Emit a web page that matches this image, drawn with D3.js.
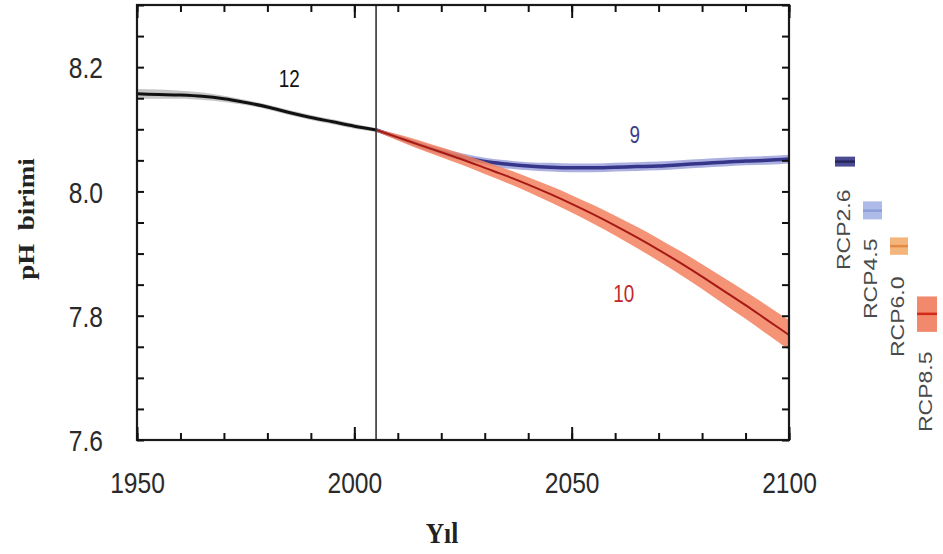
<!DOCTYPE html>
<html><head><meta charset="utf-8">
<script src="https://cdn.jsdelivr.net/npm/d3@7"></script>
<style>
html,body{margin:0;padding:0;background:#fff;}
svg{display:block;}
</style>
</head><body>
<svg id="c" width="943" height="554"></svg>
<script>
// ---------- data ----------
const histYears = [1950,1955,1960,1965,1970,1975,1980,1985,1990,1995,2000,2005];
const histPH    = [8.157,8.156,8.155,8.153,8.149,8.143,8.136,8.127,8.119,8.112,8.105,8.099];
const histLo    = [8.149,8.149,8.149,8.147,8.144,8.139,8.132,8.123,8.115,8.108,8.101,8.096];
const histHi    = [8.165,8.164,8.162,8.159,8.154,8.147,8.140,8.131,8.123,8.116,8.109,8.102];

const futYears  = [2005,2010,2015,2020,2025,2030,2035,2040,2045,2050,2055,2060,2065,2070,2075,2080,2085,2090,2095,2100];
const rcp26     = [8.099,8.087,8.075,8.064,8.055,8.048,8.044,8.041,8.039,8.038,8.038,8.039,8.040,8.041,8.043,8.045,8.047,8.049,8.050,8.052];
const rcp26Lo   = [8.096,8.083,8.070,8.058,8.049,8.042,8.037,8.034,8.032,8.031,8.031,8.032,8.033,8.034,8.036,8.038,8.040,8.042,8.043,8.045];
const rcp26Hi   = [8.102,8.091,8.080,8.070,8.061,8.054,8.050,8.047,8.046,8.045,8.045,8.046,8.047,8.048,8.050,8.052,8.054,8.056,8.057,8.059];
const rcp85     = [8.099,8.087,8.075,8.063,8.051,8.038,8.025,8.011,7.996,7.980,7.963,7.945,7.926,7.906,7.885,7.863,7.840,7.817,7.793,7.769];
const rcp85Lo   = [8.097,8.082,8.068,8.055,8.042,8.028,8.014,7.999,7.983,7.966,7.948,7.929,7.909,7.888,7.866,7.843,7.819,7.795,7.770,7.745];
const rcp85Hi   = [8.101,8.092,8.082,8.071,8.060,8.048,8.036,8.023,8.009,7.994,7.978,7.961,7.943,7.924,7.904,7.883,7.861,7.839,7.816,7.793];

const legendNames = ["RCP2.6","RCP4.5","RCP6.0","RCP8.5"];
const legendMean  = [8.048, 7.969, 7.912, 7.803];
const legendLo    = [8.040, 7.955, 7.898, 7.774];
const legendHi    = [8.056, 7.984, 7.926, 7.831];
const legendFill  = ["#4b4b92","#aebbe8","#f4b57c","#f2886c"];
const legendLine  = ["#26265e","#8d9dd6","#e38a45","#d42a18"];

const xTicksMajor = [1950,2000,2050,2100];
const xTicksMinor = d3.range(1950,2101,10);
const yTicks      = d3.range(0,15).map(i => +(7.6 + i*0.05).toFixed(2));
const yLabels     = [7.6,7.8,8.0,8.2];
const curveLabels = [{t:"12",year:1985,ph:8.168,c:"#111"},{t:"9",year:2064.5,ph:8.078,c:"#3c3c8c"},{t:"10",year:2062,ph:7.822,c:"#c0282a"}];

// ---------- layout ----------
const L=137, R=789, T=5, B=440;
const svg = d3.select("#c");
const x = d3.scaleLinear().domain([1950,2100]).range([L,R]);
const y = d3.scaleLinear().domain([7.6,8.3]).range([B,T]);
const FONT = "'Liberation Sans', Arial, sans-serif";
const SERIF = "'Liberation Serif', 'Times New Roman', serif";

const area = (lo,hi,yrs) => d3.area().x((d,i)=>x(yrs[i])).y0((d,i)=>y(lo[i])).y1((d,i)=>y(hi[i])).curve(d3.curveMonotoneX)(yrs);
const line = (v,yrs) => d3.line().x((d,i)=>x(yrs[i])).y((d,i)=>y(v[i])).curve(d3.curveMonotoneX)(yrs);

// historical
svg.append("path").attr("d",area(histLo,histHi,histYears)).attr("fill","#b8b8b8").attr("opacity",0.8);
svg.append("path").attr("d",line(histPH,histYears)).attr("fill","none").attr("stroke","#111").attr("stroke-width",3);

// RCP2.6
svg.append("path").attr("d",area(rcp26Lo,rcp26Hi,futYears)).attr("fill","#9ea2dc").attr("opacity",0.85);
svg.append("path").attr("d",line(rcp26,futYears)).attr("fill","none").attr("stroke","#35358a").attr("stroke-width",3.5);

// RCP8.5
svg.append("path").attr("d",area(rcp85Lo,rcp85Hi,futYears)).attr("fill","#f3805f").attr("opacity",0.85);
svg.append("path").attr("d",line(rcp85,futYears)).attr("fill","none").attr("stroke","#a51a14").attr("stroke-width",2);

// 2005 vertical line
svg.append("line").attr("x1",x(2005)).attr("x2",x(2005)).attr("y1",T).attr("y2",B).attr("stroke","#333").attr("stroke-width",1.6);

// frame
svg.append("rect").attr("x",L).attr("y",T).attr("width",R-L).attr("height",B-T)
  .attr("fill","none").attr("stroke","#1a1a1a").attr("stroke-width",2.2);

// axes (inward ticks)
function styleAxis(g){
  g.select(".domain").remove();
  g.selectAll(".tick line").attr("stroke","#111").attr("stroke-width",2);
}
svg.append("g").attr("transform",`translate(0,${B})`)
  .call(d3.axisBottom(x).tickValues(xTicksMinor).tickSize(-7).tickFormat(""))
  .call(styleAxis);
const xb = svg.append("g").attr("transform",`translate(0,${B})`)
  .call(d3.axisBottom(x).tickValues(xTicksMajor).tickSize(-13).tickFormat(d3.format("d")))
  .call(styleAxis);
xb.selectAll(".tick text").attr("y",53).attr("dy",0).attr("transform","scale(0.82,1)")
  .attr("font-family",FONT).attr("font-size",30).attr("fill","#2a2a2a");
svg.append("g").attr("transform",`translate(0,${T})`)
  .call(d3.axisTop(x).tickValues(xTicksMinor).tickSize(-7).tickFormat(""))
  .call(styleAxis);
svg.append("g").attr("transform",`translate(0,${T})`)
  .call(d3.axisTop(x).tickValues(xTicksMajor).tickSize(-13).tickFormat(""))
  .call(styleAxis);
const yl = svg.append("g").attr("transform",`translate(${L},0)`)
  .call(d3.axisLeft(y).tickValues(yTicks).tickSize(-7)
     .tickFormat(d => yLabels.some(v=>Math.abs(v-d)<1e-6) ? d3.format(".1f")(d) : ""))
  .call(styleAxis);
yl.selectAll(".tick text").attr("x",-34/0.82).attr("dy","0.36em").attr("transform","scale(0.82,1)")
  .attr("font-family",FONT).attr("font-size",30).attr("fill","#2a2a2a");
svg.append("g").attr("transform",`translate(${R},0)`)
  .call(d3.axisRight(y).tickValues(yTicks).tickSize(-7).tickFormat(""))
  .call(styleAxis);

// curve labels
svg.selectAll("text.cl").data(curveLabels).enter().append("text").attr("class","cl")
  .attr("transform",d=>`translate(${x(d.year)},${y(d.ph)}) scale(0.82,1)`)
  .attr("text-anchor","middle").attr("font-family",FONT).attr("font-size",23).attr("fill",d=>d.c).text(d=>d.t);

// legend
const legX = [845, 872.5, 899, 927];
const legW = [20, 19, 18, 20];
const legTextBottom = [270, 319, 357, 432];
legendNames.forEach((n,i)=>{
  svg.append("rect").attr("x",legX[i]-legW[i]/2).attr("width",legW[i])
    .attr("y",y(legendHi[i])).attr("height",y(legendLo[i])-y(legendHi[i]))
    .attr("fill",legendFill[i]);
  svg.append("line").attr("x1",legX[i]-legW[i]/2).attr("x2",legX[i]+legW[i]/2)
    .attr("y1",y(legendMean[i])).attr("y2",y(legendMean[i]))
    .attr("stroke",legendLine[i]).attr("stroke-width",2.5);
  svg.append("text").attr("transform",`translate(${legX[i]-2},${legTextBottom[i]}) scale(0.8,1) rotate(-90)`)
    .attr("dy","0.36em").attr("text-anchor","start").attr("font-family",FONT).attr("font-size",23)
    .attr("fill","#4a4a4a").text(n);
});

// axis titles
svg.append("text").attr("transform","translate(442,543) scale(0.85,1)").attr("text-anchor","middle")
  .attr("font-family",SERIF).attr("font-weight","bold").attr("font-size",30).attr("fill","#222").text("Yıl");
svg.append("text").attr("transform","translate(26,219) scale(0.82,1) rotate(-90)").attr("text-anchor","middle")
  .attr("dy","0.36em").attr("font-family",SERIF).attr("font-weight","bold").attr("font-size",27).attr("fill","#222")
  .style("white-space","pre").text("pH  birimi");
</script>
</body></html>
